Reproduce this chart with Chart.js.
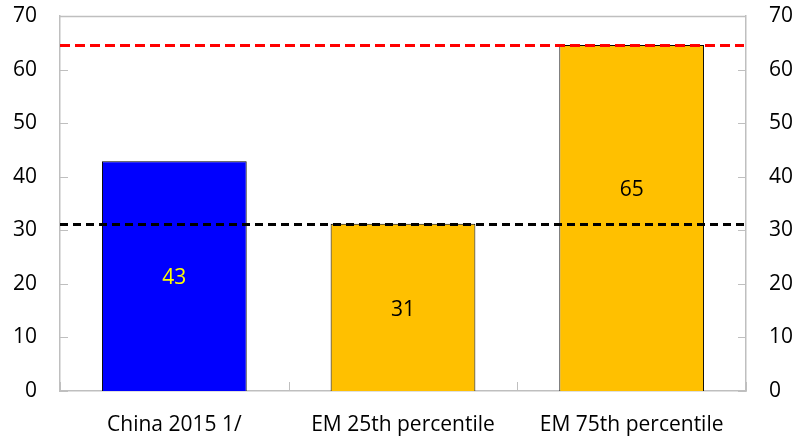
<!DOCTYPE html>
<html>
<head>
<meta charset="utf-8">
<script src="https://cdn.jsdelivr.net/npm/chart.js@4/dist/chart.umd.min.js"></script>
<style>
  html, body { margin: 0; padding: 0; background: #ffffff; }
  #wrap { width: 797px; height: 438px; }
</style>
</head>
<body>
<div id="wrap"><canvas id="c" width="797" height="438"></canvas></div>
<script>
// Categories and values
const categories = ['China 2015 1/', 'EM 25th percentile', 'EM 75th percentile'];
const values = [42.9, 31.2, 64.6];
const barColors = ['#0000ff', '#ffc000', '#ffc000'];
const labelColors = ['#ffff00', '#000000', '#000000'];
// value at which each bar's label is centred
const labelAnchors = [21.1, 15.2, 37.6];
// reference lines: EM 75th percentile (red) and EM 25th percentile (black)
const refLines = [
  { value: 64.6, color: '#ff0000', dash: [10, 5] },
  { value: 31.2, color: '#000000', dash: [8, 5] }
];
const yTicks = [0, 10, 20, 30, 40, 50, 60, 70];

const FONT = "'Open Sans', 'Noto Sans', sans-serif";
const FONT_SIZE = 21;
const AXIS_GRAY = '#bfbfbf';

const framePlugin = {
  id: 'frame',
  afterDatasetsDraw(chart) {
    const { ctx, chartArea: a, scales } = chart;
    const y = scales.y;
    const x = scales.x;
    ctx.save();
    // reference lines
    refLines.forEach(r => {
      const py = Math.round(y.getPixelForValue(r.value)) + 0.5;
      ctx.strokeStyle = r.color;
      ctx.lineWidth = 3;
      ctx.setLineDash(r.dash);
      ctx.beginPath();
      ctx.moveTo(a.left, py);
      ctx.lineTo(a.right - 2, py);
      ctx.stroke();
    });
    ctx.setLineDash([]);
    // frame: top edge
    ctx.strokeStyle = AXIS_GRAY;
    ctx.lineWidth = 1.5;
    ctx.beginPath();
    ctx.moveTo(a.left, a.top + 0.5);
    ctx.lineTo(a.right, a.top + 0.5);
    ctx.stroke();
    // inward tick marks on both value axes
    ctx.lineWidth = 1;
    yTicks.forEach(v => {
      const py = Math.round(y.getPixelForValue(v)) + 0.5;
      ctx.beginPath();
      ctx.moveTo(a.left, py);
      ctx.lineTo(a.left + 8, py);
      ctx.moveTo(a.right, py);
      ctx.lineTo(a.right - 8, py);
      ctx.stroke();
    });
    // category boundary ticks on the x axis
    for (let i = 0; i <= categories.length; i++) {
      const px = Math.round(x.getPixelForValue(i - 0.5)) + 0.5;
      ctx.beginPath();
      ctx.moveTo(px, a.bottom);
      ctx.lineTo(px, a.bottom - 9);
      ctx.stroke();
    }
    // value labels
    ctx.font = FONT_SIZE + 'px ' + FONT;
    ctx.textAlign = 'center';
    ctx.textBaseline = 'middle';
    values.forEach((v, i) => {
      ctx.fillStyle = labelColors[i];
      ctx.fillText(String(Math.round(v)), x.getPixelForValue(i), y.getPixelForValue(labelAnchors[i]));
    });
    ctx.restore();
  }
};

function fixVertical(width) {
  return function (s) {
    s.width = width;
    s.paddingTop = 0;
    s.paddingBottom = 0;
  };
}

new Chart(document.getElementById('c'), {
  type: 'bar',
  data: {
    labels: categories,
    datasets: [{
      data: values,
      backgroundColor: barColors,
      borderColor: '#000000',
      borderWidth: 1,
      borderSkipped: 'bottom',
      categoryPercentage: 1,
      barPercentage: 0.633
    }]
  },
  options: {
    responsive: false,
    animation: false,
    layout: { padding: { top: 16, right: 0, left: 0, bottom: 0 } },
    plugins: { legend: { display: false }, tooltip: { enabled: false } },
    scales: {
      x: {
        grid: { display: false, drawTicks: false },
        border: { display: true, color: AXIS_GRAY, width: 1.5 },
        ticks: { color: '#000000', font: { family: FONT, size: FONT_SIZE }, padding: 21, maxRotation: 0 },
        afterFit(s) { s.height = 47; s.paddingLeft = 0; s.paddingRight = 0; }
      },
      y: {
        position: 'left',
        min: 0, max: 70,
        grid: { display: false, drawTicks: false },
        border: { display: true, color: AXIS_GRAY, width: 1.5 },
        ticks: { stepSize: 10, color: '#000000', font: { family: FONT, size: FONT_SIZE }, padding: 23 },
        afterFit: fixVertical(60)
      },
      y2: {
        position: 'right',
        min: 0, max: 70,
        grid: { display: false, drawTicks: false },
        border: { display: true, color: AXIS_GRAY, width: 1.5 },
        ticks: { stepSize: 10, color: '#000000', font: { family: FONT, size: FONT_SIZE }, padding: 23 },
        afterFit: fixVertical(51)
      }
    }
  },
  plugins: [framePlugin]
});
</script>
</body>
</html>
